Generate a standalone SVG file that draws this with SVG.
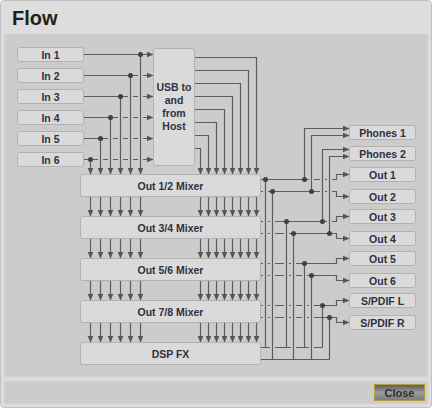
<svg xmlns="http://www.w3.org/2000/svg" width="432" height="408" viewBox="0 0 432 408">
<defs>
<marker id="ah" markerUnits="userSpaceOnUse" markerWidth="8" markerHeight="7" refX="7" refY="3" orient="auto">
<path d="M0,0 L7,3 L0,6 z" fill="#555"/>
</marker>
<linearGradient id="btn" x1="0" y1="0" x2="0" y2="1">
<stop offset="0" stop-color="#5a5a5a"/>
<stop offset="0.5" stop-color="#9a9a9a"/>
<stop offset="1" stop-color="#7c7c7c"/>
</linearGradient>
<style>
.box{fill:#dadada;stroke:#b2b2b2;stroke-width:1}
.lbl{font-family:"Liberation Sans",Arial,sans-serif;font-weight:bold;font-size:10.5px;fill:#303040;text-anchor:middle}
.ln{fill:none;stroke:#5c5c5c;stroke-width:1.2}
.ar{marker-end:url(#ah)}
.halo{fill:none;stroke:#cccccc;stroke-width:5}
.dot{fill:#404040}
</style>
</defs>
<rect x="0.5" y="0.5" width="431" height="407" rx="3" fill="#dddddd" stroke="#c2c2c2"/>
<text x="12" y="24.5" font-family="Liberation Sans,Arial,sans-serif" font-weight="bold" font-size="20" fill="#231f14">Flow</text>
<rect x="4" y="34" width="424" height="343" rx="2" fill="#cccccc" stroke="#d6d6d6"/>
<rect x="4" y="381" width="424" height="23" rx="2" fill="#cccccc" stroke="#d6d6d6"/>

<g id="connectors">
<g id="horiz">
<path class="ln ar" d="M83.5,54.5H153.5"/>
<path class="ln ar" d="M83.5,75.5H153.5"/>
<path class="ln ar" d="M83.5,96.5H153.5"/>
<path class="ln ar" d="M83.5,117.5H153.5"/>
<path class="ln ar" d="M83.5,138.5H153.5"/>
<path class="ln ar" d="M83.5,159.5H153.5"/>
<path class="ln ar" d="M194.5,57.5H256.5V174.5"/>
<path class="ln ar" d="M194.5,70.5H248.5V174.5"/>
<path class="ln ar" d="M194.5,83.5H240.5V174.5"/>
<path class="ln ar" d="M194.5,96.5H232.5V174.5"/>
<path class="ln ar" d="M194.5,109.5H224.5V174.5"/>
<path class="ln ar" d="M194.5,122.5H216.5V174.5"/>
<path class="ln ar" d="M194.5,135.5H208.5V174.5"/>
<path class="ln ar" d="M194.5,148.5H200.5V174.5"/>
<path class="ln ar" d="M260.5,179.5H336.5V174.5H349.5"/>
<path class="ln ar" d="M260.5,191.5H336.5V196.5H349.5"/>
<path class="ln ar" d="M260.5,221.5H336.5V216.5H349.5"/>
<path class="ln ar" d="M260.5,233.5H336.5V238.5H349.5"/>
<path class="ln ar" d="M260.5,263.5H336.5V258.5H349.5"/>
<path class="ln ar" d="M260.5,275.5H336.5V280.5H349.5"/>
<path class="ln ar" d="M260.5,305.5H336.5V300.5H349.5"/>
<path class="ln ar" d="M260.5,317.5H336.5V322.5H349.5"/>
<path class="ln" d="M260.5,347.5H322.5"/>
<path class="ln" d="M260.5,359.5H329.5"/>
</g>
<g id="halos">
<path class="halo" d="M140.5,58V171M130.5,79V171M120.5,100V171M110.5,121V171M100.5,142V171"/>
<path class="halo" d="M265.5,183V344M272.5,195V356M286.5,225V344M293.5,237V356M304.5,267V344M311.5,279V356M329.5,321V356"/>
<path class="halo" d="M311.5,188V139M322.5,218V153M329.5,230V160"/>
</g>
<g id="vert">
<path class="ln ar" d="M140.5,54.5V174.5"/>
<path class="ln ar" d="M130.5,75.5V174.5"/>
<path class="ln ar" d="M120.5,96.5V174.5"/>
<path class="ln ar" d="M110.5,117.5V174.5"/>
<path class="ln ar" d="M100.5,138.5V174.5"/>
<path class="ln ar" d="M90.5,159.5V174.5"/>
<path class="ln" d="M265.5,179.5V347.5M272.5,191.5V359.5M286.5,221.5V347.5M293.5,233.5V359.5M304.5,263.5V347.5M311.5,275.5V359.5M322.5,305.5V347.5M329.5,317.5V359.5"/>
<path class="ln ar" d="M304.5,179.5V128.5H349.5"/>
<path class="ln ar" d="M311.5,191.5V135.5H349.5"/>
<path class="ln ar" d="M322.5,221.5V149.5H349.5"/>
<path class="ln ar" d="M329.5,233.5V156.5H349.5"/>
</g>
<g id="gaps">
<path class="ln ar" d="M90.5,196.5V216.5"/><path class="ln ar" d="M100.5,196.5V216.5"/><path class="ln ar" d="M110.5,196.5V216.5"/><path class="ln ar" d="M120.5,196.5V216.5"/><path class="ln ar" d="M130.5,196.5V216.5"/><path class="ln ar" d="M140.5,196.5V216.5"/>
<path class="ln ar" d="M90.5,238.5V258.5"/><path class="ln ar" d="M100.5,238.5V258.5"/><path class="ln ar" d="M110.5,238.5V258.5"/><path class="ln ar" d="M120.5,238.5V258.5"/><path class="ln ar" d="M130.5,238.5V258.5"/><path class="ln ar" d="M140.5,238.5V258.5"/>
<path class="ln ar" d="M90.5,280.5V300.5"/><path class="ln ar" d="M100.5,280.5V300.5"/><path class="ln ar" d="M110.5,280.5V300.5"/><path class="ln ar" d="M120.5,280.5V300.5"/><path class="ln ar" d="M130.5,280.5V300.5"/><path class="ln ar" d="M140.5,280.5V300.5"/>
<path class="ln ar" d="M90.5,322.5V342.5"/><path class="ln ar" d="M100.5,322.5V342.5"/><path class="ln ar" d="M110.5,322.5V342.5"/><path class="ln ar" d="M120.5,322.5V342.5"/><path class="ln ar" d="M130.5,322.5V342.5"/><path class="ln ar" d="M140.5,322.5V342.5"/>
<path class="ln ar" d="M200.5,196.5V216.5"/><path class="ln ar" d="M208.5,196.5V216.5"/><path class="ln ar" d="M216.5,196.5V216.5"/><path class="ln ar" d="M224.5,196.5V216.5"/><path class="ln ar" d="M232.5,196.5V216.5"/><path class="ln ar" d="M240.5,196.5V216.5"/><path class="ln ar" d="M248.5,196.5V216.5"/><path class="ln ar" d="M256.5,196.5V216.5"/>
<path class="ln ar" d="M200.5,238.5V258.5"/><path class="ln ar" d="M208.5,238.5V258.5"/><path class="ln ar" d="M216.5,238.5V258.5"/><path class="ln ar" d="M224.5,238.5V258.5"/><path class="ln ar" d="M232.5,238.5V258.5"/><path class="ln ar" d="M240.5,238.5V258.5"/><path class="ln ar" d="M248.5,238.5V258.5"/><path class="ln ar" d="M256.5,238.5V258.5"/>
<path class="ln ar" d="M200.5,280.5V300.5"/><path class="ln ar" d="M208.5,280.5V300.5"/><path class="ln ar" d="M216.5,280.5V300.5"/><path class="ln ar" d="M224.5,280.5V300.5"/><path class="ln ar" d="M232.5,280.5V300.5"/><path class="ln ar" d="M240.5,280.5V300.5"/><path class="ln ar" d="M248.5,280.5V300.5"/><path class="ln ar" d="M256.5,280.5V300.5"/>
<path class="ln ar" d="M200.5,322.5V342.5"/><path class="ln ar" d="M208.5,322.5V342.5"/><path class="ln ar" d="M216.5,322.5V342.5"/><path class="ln ar" d="M224.5,322.5V342.5"/><path class="ln ar" d="M232.5,322.5V342.5"/><path class="ln ar" d="M240.5,322.5V342.5"/><path class="ln ar" d="M248.5,322.5V342.5"/><path class="ln ar" d="M256.5,322.5V342.5"/>
</g>
<g id="dots">
<circle class="dot" cx="140.5" cy="54.5" r="2.5"/>
<circle class="dot" cx="130.5" cy="75.5" r="2.5"/>
<circle class="dot" cx="120.5" cy="96.5" r="2.5"/>
<circle class="dot" cx="110.5" cy="117.5" r="2.5"/>
<circle class="dot" cx="100.5" cy="138.5" r="2.5"/>
<circle class="dot" cx="90.5" cy="159.5" r="2.5"/>
<circle class="dot" cx="265.5" cy="179.5" r="2.5"/>
<circle class="dot" cx="304.5" cy="179.5" r="2.5"/>
<circle class="dot" cx="272.5" cy="191.5" r="2.5"/>
<circle class="dot" cx="311.5" cy="191.5" r="2.5"/>
<circle class="dot" cx="286.5" cy="221.5" r="2.5"/>
<circle class="dot" cx="322.5" cy="221.5" r="2.5"/>
<circle class="dot" cx="293.5" cy="233.5" r="2.5"/>
<circle class="dot" cx="329.5" cy="233.5" r="2.5"/>
<circle class="dot" cx="304.5" cy="263.5" r="2.5"/>
<circle class="dot" cx="311.5" cy="275.5" r="2.5"/>
<circle class="dot" cx="322.5" cy="305.5" r="2.5"/>
<circle class="dot" cx="329.5" cy="317.5" r="2.5"/>
</g>
</g>

<g id="in1"><rect class="box" x="17.5" y="47.5" width="66" height="14" rx="2"/><text class="lbl" x="50.5" y="58.5">In 1</text></g>
<g id="in2"><rect class="box" x="17.5" y="68.5" width="66" height="14" rx="2"/><text class="lbl" x="50.5" y="79.5">In 2</text></g>
<g id="in3"><rect class="box" x="17.5" y="89.5" width="66" height="14" rx="2"/><text class="lbl" x="50.5" y="100.5">In 3</text></g>
<g id="in4"><rect class="box" x="17.5" y="110.5" width="66" height="14" rx="2"/><text class="lbl" x="50.5" y="121.5">In 4</text></g>
<g id="in5"><rect class="box" x="17.5" y="131.5" width="66" height="14" rx="2"/><text class="lbl" x="50.5" y="142.5">In 5</text></g>
<g id="in6"><rect class="box" x="17.5" y="152.5" width="66" height="14" rx="2"/><text class="lbl" x="50.5" y="163.5">In 6</text></g>

<g id="usb"><rect class="box" x="153.5" y="48.5" width="41" height="117" rx="2"/>
<text class="lbl" x="174" y="91">USB to</text><text class="lbl" x="174" y="104">and</text><text class="lbl" x="174" y="117">from</text><text class="lbl" x="174" y="130">Host</text></g>

<g id="mix12"><rect class="box" x="80.5" y="174.5" width="180" height="22" rx="2"/><text class="lbl" x="170.5" y="189.5">Out 1/2 Mixer</text></g>
<g id="mix34"><rect class="box" x="80.5" y="216.5" width="180" height="22" rx="2"/><text class="lbl" x="170.5" y="231.5">Out 3/4 Mixer</text></g>
<g id="mix56"><rect class="box" x="80.5" y="258.5" width="180" height="22" rx="2"/><text class="lbl" x="170.5" y="273.5">Out 5/6 Mixer</text></g>
<g id="mix78"><rect class="box" x="80.5" y="300.5" width="180" height="22" rx="2"/><text class="lbl" x="170.5" y="315.5">Out 7/8 Mixer</text></g>
<g id="dspfx"><rect class="box" x="80.5" y="342.5" width="180" height="22" rx="2"/><text class="lbl" x="170.5" y="357.5">DSP FX</text></g>

<g id="phones1"><rect class="box" x="349.5" y="125.5" width="66" height="14" rx="2"/><text class="lbl" x="382.5" y="136.5">Phones 1</text></g>
<g id="phones2"><rect class="box" x="349.5" y="146.5" width="66" height="14" rx="2"/><text class="lbl" x="382.5" y="157.5">Phones 2</text></g>
<g id="out1"><rect class="box" x="349.5" y="167.5" width="66" height="14" rx="2"/><text class="lbl" x="382.5" y="178.5">Out 1</text></g>
<g id="out2"><rect class="box" x="349.5" y="189.5" width="66" height="14" rx="2"/><text class="lbl" x="382.5" y="200.5">Out 2</text></g>
<g id="out3"><rect class="box" x="349.5" y="209.5" width="66" height="14" rx="2"/><text class="lbl" x="382.5" y="220.5">Out 3</text></g>
<g id="out4"><rect class="box" x="349.5" y="231.5" width="66" height="14" rx="2"/><text class="lbl" x="382.5" y="242.5">Out 4</text></g>
<g id="out5"><rect class="box" x="349.5" y="251.5" width="66" height="14" rx="2"/><text class="lbl" x="382.5" y="262.5">Out 5</text></g>
<g id="out6"><rect class="box" x="349.5" y="273.5" width="66" height="14" rx="2"/><text class="lbl" x="382.5" y="284.5">Out 6</text></g>
<g id="spdifl"><rect class="box" x="349.5" y="293.5" width="66" height="14" rx="2"/><text class="lbl" x="382.5" y="304.5">S/PDIF L</text></g>
<g id="spdifr"><rect class="box" x="349.5" y="315.5" width="66" height="14" rx="2"/><text class="lbl" x="382.5" y="326.5">S/PDIF R</text></g>

<g id="close"><rect x="374.5" y="384.5" width="50" height="16" fill="url(#btn)" stroke="#b29c3c"/>
<text x="399.5" y="396.5" font-family="Liberation Sans,Arial,sans-serif" font-weight="bold" font-size="11" fill="#2e2e2e" text-anchor="middle">Close</text></g>
</svg>
